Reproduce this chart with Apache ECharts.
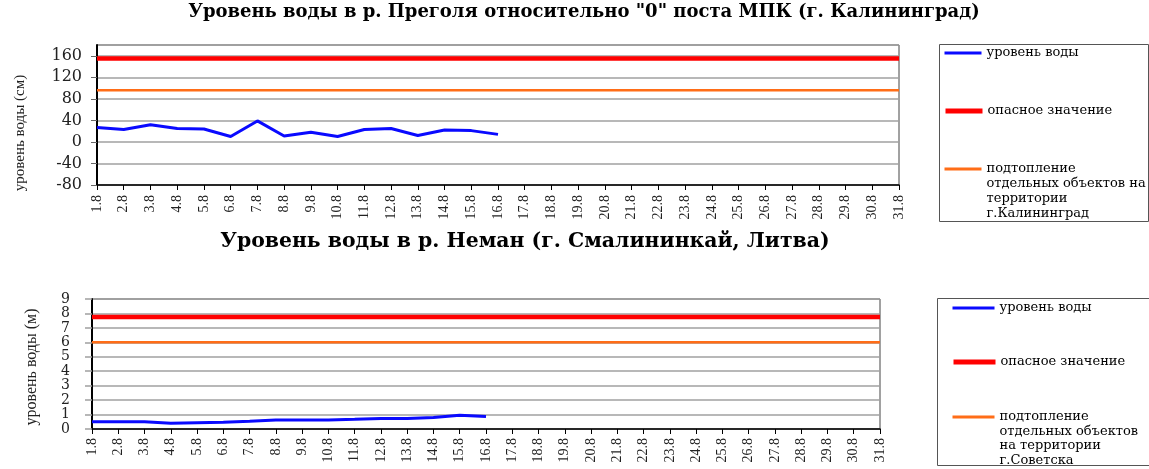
<!DOCTYPE html>
<html>
<head>
<meta charset="utf-8">
<script src="https://cdn.jsdelivr.net/npm/echarts@6/dist/echarts.min.js"></script>
<style>
html, body { margin: 0; background: #fff; }
#chart { width: 1149px; height: 469px; }
</style>
</head>
<body>
<div id="chart"></div>
<script>
// даты (подписи оси X)
var days = ['1.8', '2.8', '3.8', '4.8', '5.8', '6.8', '7.8', '8.8', '9.8', '10.8',
            '11.8', '12.8', '13.8', '14.8', '15.8', '16.8', '17.8', '18.8', '19.8', '20.8',
            '21.8', '22.8', '23.8', '24.8', '25.8', '26.8', '27.8', '28.8', '29.8', '30.8', '31.8'];

// р. Преголя, см
var pregolyaLevel = [27, 23, 32, 25, 24, 10, 39, 11, 18, 10, 23, 25, 12, 22, 21, 14];
var pregolyaDanger = 155;
var pregolyaFlood = 96;

// р. Неман, м
var nemanLevel = [0.51, 0.50, 0.50, 0.40, 0.44, 0.46, 0.53, 0.63, 0.63, 0.63, 0.67, 0.72, 0.72, 0.80, 0.95, 0.86];
var nemanDanger = 7.75;
var nemanFlood = 6;

var nameLevel = 'уровень воды';
var nameDanger = 'опасное значение';
var floodLines1 = ['подтопление', 'отдельных объектов на', 'территории', 'г.Калининград'];
var floodLines2 = ['подтопление', 'отдельных объектов', 'на территории', 'г.Советска'];
var nameFlood1 = floodLines1.join('\n');
var nameFlood2 = floodLines2.join('\n');

var blue = '#0a0aff', red = '#ff0000', orange = '#ff6d17';
var serif = 'Liberation Serif', wide = 'DejaVu Serif';

// горизонтальная линия через всю ось
function flat(v) {
    return [[days[0], v], [days[days.length - 1], v]];
}

// одна строка легенды; у многострочной первая строка на уровне значка
function legendItem(name, color, width, left, top, iw, lh) {
    var n = name.split('\n').length;
    return {
        data: [name],
        left: left, top: top, padding: 0,
        itemWidth: iw, itemHeight: 14,
        selectedMode: false,
        lineStyle: { color: color, width: width },
        itemStyle: { opacity: 0 },
        formatter: function (s) {
            return s.split('\n').map(function (p) { return '{t|' + p + '}'; }).join('\n');
        },
        textStyle: {
            fontFamily: wide, fontSize: 13, color: '#000', lineHeight: lh,
            padding: [(n - 1) * lh, 0, 0, 0],
            rich: { t: { fontFamily: wide, fontSize: 13, color: '#000', lineHeight: lh } }
        }
    };
}

var myChart = echarts.init(document.getElementById('chart'));

var option = {
    animation: false,
    title: [
        { text: 'Уровень воды в р. Преголя относительно "0" поста МПК (г. Калининград)',
          left: 584, top: 12, padding: 0, textAlign: 'center', textVerticalAlign: 'middle',
          textStyle: { fontFamily: wide, fontSize: 18, fontWeight: 'bold', color: '#000' } },
        { text: 'Уровень воды в р. Неман (г. Смалининкай, Литва)',
          left: 525, top: 242, padding: 0, textAlign: 'center', textVerticalAlign: 'middle',
          textStyle: { fontFamily: wide, fontSize: 20.4, fontWeight: 'bold', color: '#000' } }
    ],
    legend: [
        legendItem(nameLevel, blue, 3, 943, 46, 37, 14),
        legendItem(nameDanger, red, 5, 943, 104, 37, 14),
        legendItem(nameFlood1, orange, 3, 943, 116.5, 37, 15),
        legendItem(nameLevel, blue, 3, 951, 301, 42, 14),
        legendItem(nameDanger, red, 5, 951, 355, 42, 14),
        legendItem(nameFlood2, orange, 3, 951, 366.25, 42, 14.5)
    ],
    graphic: [
        { type: 'rect', shape: { x: 939.5, y: 44.5, width: 209, height: 177 },
          style: { fill: 'none', stroke: '#555', lineWidth: 1 } },
        { type: 'rect', shape: { x: 937.5, y: 298.5, width: 215, height: 167 },
          style: { fill: 'none', stroke: '#555', lineWidth: 1 } }
    ],
    grid: [
        { left: 97, top: 45, width: 802, height: 140, show: true, borderColor: '#444', borderWidth: 1 },
        { left: 92, top: 299, width: 788, height: 130, show: true, borderColor: '#444', borderWidth: 1 }
    ],
    xAxis: [
        { type: 'category', gridIndex: 0, data: days, boundaryGap: false,
          axisLine: { onZero: false, lineStyle: { color: '#000', width: 1.5 } },
          axisTick: { interval: 0, length: 5, lineStyle: { color: '#000' } },
          axisLabel: { interval: 0, rotate: 90, margin: 10, fontFamily: serif, fontSize: 14, color: '#222' },
          splitLine: { show: false } },
        { type: 'category', gridIndex: 1, data: days, boundaryGap: false,
          axisLine: { onZero: false, lineStyle: { color: '#000', width: 1.5 } },
          axisTick: { interval: 0, length: 5, lineStyle: { color: '#000' } },
          axisLabel: { interval: 0, rotate: 90, margin: 9, fontFamily: serif, fontSize: 14, color: '#222' },
          splitLine: { show: false } }
    ],
    yAxis: [
        { type: 'value', gridIndex: 0, min: -80, max: 180, interval: 40,
          name: 'уровень воды (см)', nameLocation: 'middle', nameGap: 69,
          nameTextStyle: { fontFamily: serif, fontSize: 15, color: '#222', padding: [0, 36, 0, 0] },
          axisLine: { show: true, lineStyle: { color: '#000', width: 2 } },
          axisTick: { show: true, length: 6, lineStyle: { color: '#666' } },
          axisLabel: { showMaxLabel: false, margin: 15, fontFamily: wide, fontSize: 16, color: '#222' },
          splitLine: { lineStyle: { color: '#a0a0a0', width: 1.5 } } },
        { type: 'value', gridIndex: 1, min: 0, max: 9, interval: 1,
          name: 'уровень воды (м)', nameLocation: 'middle', nameGap: 52,
          nameTextStyle: { fontFamily: serif, fontSize: 16, color: '#222', padding: [0, 6, 0, 0] },
          axisLine: { show: true, lineStyle: { color: '#000', width: 2 } },
          axisTick: { show: true, length: 7, lineStyle: { color: '#a0a0a0', width: 1.5 } },
          axisLabel: { margin: 22, fontFamily: wide, fontSize: 14, color: '#222' },
          splitLine: { lineStyle: { color: '#a0a0a0', width: 1.5 } } }
    ],
    series: [
        { type: 'line', name: nameDanger, xAxisIndex: 0, yAxisIndex: 0, data: flat(pregolyaDanger),
          symbol: 'none', lineStyle: { color: red, width: 4.5 }, itemStyle: { color: red } },
        { type: 'line', name: nameFlood1, xAxisIndex: 0, yAxisIndex: 0, data: flat(pregolyaFlood),
          symbol: 'none', lineStyle: { color: orange, width: 2.5 }, itemStyle: { color: orange } },
        { type: 'line', name: nameLevel, xAxisIndex: 0, yAxisIndex: 0, data: pregolyaLevel,
          symbol: 'none', lineStyle: { color: blue, width: 3 }, itemStyle: { color: blue } },
        { type: 'line', name: nameDanger, xAxisIndex: 1, yAxisIndex: 1, data: flat(nemanDanger),
          symbol: 'none', lineStyle: { color: red, width: 4.5 }, itemStyle: { color: red } },
        { type: 'line', name: nameFlood2, xAxisIndex: 1, yAxisIndex: 1, data: flat(nemanFlood),
          symbol: 'none', lineStyle: { color: orange, width: 2.5 }, itemStyle: { color: orange } },
        { type: 'line', name: nameLevel, xAxisIndex: 1, yAxisIndex: 1, data: nemanLevel,
          symbol: 'none', lineStyle: { color: blue, width: 3 }, itemStyle: { color: blue } }
    ]
};

myChart.setOption(option);
</script>
</body>
</html>
